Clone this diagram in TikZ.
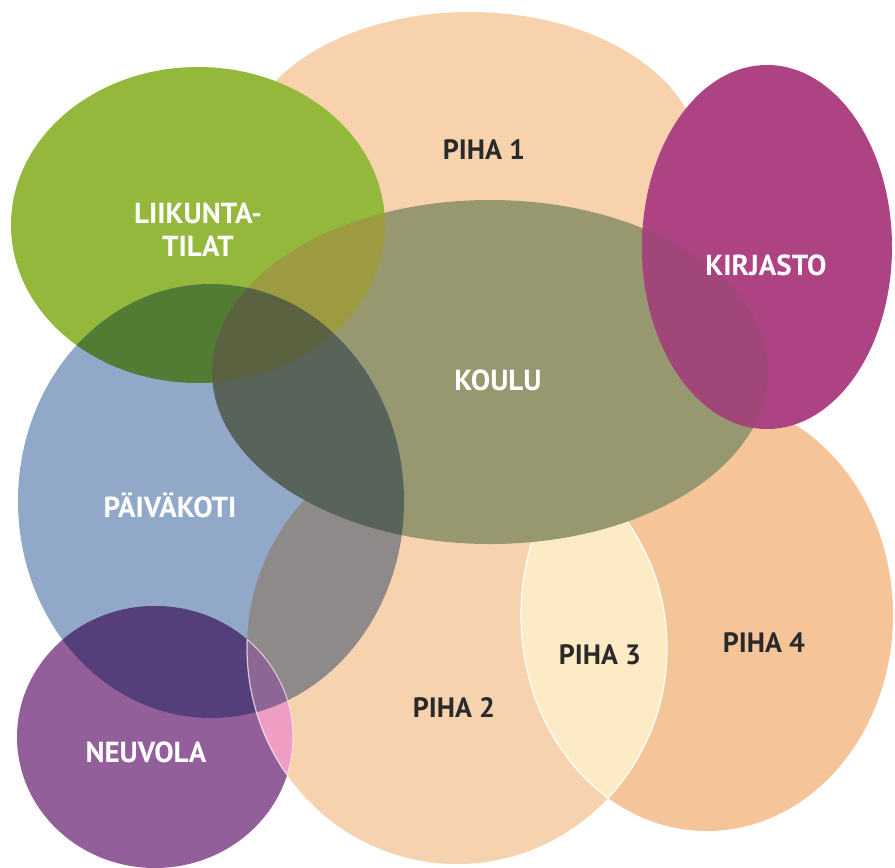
\documentclass[tikz,border=0pt]{standalone}
\usepackage{fontspec}
\setmainfont{PT Sans}
\definecolor{cPihaA}{HTML}{F7D2AD}
\definecolor{cPihaB}{HTML}{F6D2AF}
\definecolor{cPihaD}{HTML}{F5C599}
\definecolor{cPihaC}{HTML}{FDEBC6}
\definecolor{cKoulu}{HTML}{979870}
\definecolor{cKirj}{HTML}{AE4384}
\definecolor{cKirjKo}{HTML}{A14679}
\definecolor{cLiik}{HTML}{93B83B}
\definecolor{cLiikKo}{HTML}{9C9B42}
\definecolor{cPaiv}{HTML}{91A8C9}
\definecolor{cPaivB}{HTML}{8E8A89}
\definecolor{cPaivKo}{HTML}{586459}
\definecolor{cPaivLi}{HTML}{527C33}
\definecolor{cPaivLiKo}{HTML}{5A6240}
\definecolor{cNeuv}{HTML}{925F9B}
\definecolor{cNeuvPa}{HTML}{543F7B}
\definecolor{cNeuvPaB}{HTML}{8C6695}
\definecolor{cNeuvB}{HTML}{F09DC3}
\definecolor{cDark}{HTML}{2A2A2A}
\begin{document}
\begin{tikzpicture}[x=1pt,y=-1pt,
  wt/.style={text=white, inner sep=0pt, font=\fontsize{29}{33}\selectfont\bfseries, align=center},
  dt/.style={text=cDark, inner sep=0pt, font=\fontsize{28}{32}\selectfont\bfseries},
  seam/.style={draw=white, line width=1.2pt}]
\useasboundingbox (0,0) rectangle (895,868);
\fill[white] (0,0) rectangle (895,868);
\def\pihaA{(470,160) ellipse [x radius=230pt, y radius=148pt]}
\def\pihaB{(457,648) ellipse [x radius=210pt, y radius=216pt]}
\def\pihaD{(707,615) ellipse [x radius=186pt, y radius=216pt]}
\def\koulu{(490,372) ellipse [x radius=278pt, y radius=172pt]}
\def\liik{(198,225) ellipse [x radius=187pt, y radius=158pt]}
\def\kirj{(767,247) ellipse [x radius=125pt, y radius=182pt]}
\def\paiv{(211,501) ellipse [x radius=193pt, y radius=217pt]}
\def\neuv{(155,737) ellipse [x radius=138pt, y radius=131pt]}
% yards
\fill[cPihaA] \pihaA;
\fill[cPihaB] \pihaB;
\fill[cPihaD] \pihaD;
\begin{scope}
  \clip \pihaB;
  \fill[cPihaC] \pihaD;
  \path[seam] \pihaD;
\end{scope}
\begin{scope}
  \clip \pihaD;
  \path[seam] \pihaB;
\end{scope}
% school
\fill[cKoulu] \koulu;
% library
\fill[cKirj] \kirj;
\begin{scope}
  \clip \kirj;
  \fill[cKirjKo] \koulu;
\end{scope}
% sports
\fill[cLiik] \liik;
\begin{scope}
  \clip \liik;
  \fill[cLiikKo] \koulu;
\end{scope}
% day care
\fill[cPaiv] \paiv;
\begin{scope}
  \clip \paiv;
  \fill[cPaivB] \pihaB;
  \fill[cPaivKo] \koulu;
  \fill[cPaivLi] \liik;
  \clip \liik;
  \fill[cPaivLiKo] \koulu;
\end{scope}
% clinic
\fill[cNeuv] \neuv;
\begin{scope}
  \clip \neuv;
  \fill[cNeuvB] \pihaB;
  \fill[cNeuvPa] \paiv;
  \begin{scope}
    \clip \paiv;
    \fill[cNeuvPaB] \pihaB;
  \end{scope}
  \path[seam, draw opacity=0.7] \pihaB;
\end{scope}
\begin{scope}
  \clip \pihaB;
  \path[seam, draw opacity=0.6] \neuv;
\end{scope}
% labels
\node[wt, anchor=north] (tliik) at (198,203) {LIIKUNTA-\\TILAT};
\node[wt, anchor=base] (tkoulu) at (498,390) {KOULU};
\node[wt, anchor=base] (tkirj) at (766,275) {KIRJASTO};
\node[wt, anchor=base] (tpaiv) at (170,517) {PÄIVÄKOTI};
\node[wt, anchor=base] (tneuv) at (146,762) {NEUVOLA};
\node[dt, anchor=base] (tp1) at (484,159) {PIHA 1};
\node[dt, anchor=base] (tp2) at (454,717) {PIHA 2};
\node[dt, anchor=base] (tp3) at (600,664) {PIHA 3};
\node[dt, anchor=base] (tp4) at (764,652) {PIHA 4};
\end{tikzpicture}
\end{document}
